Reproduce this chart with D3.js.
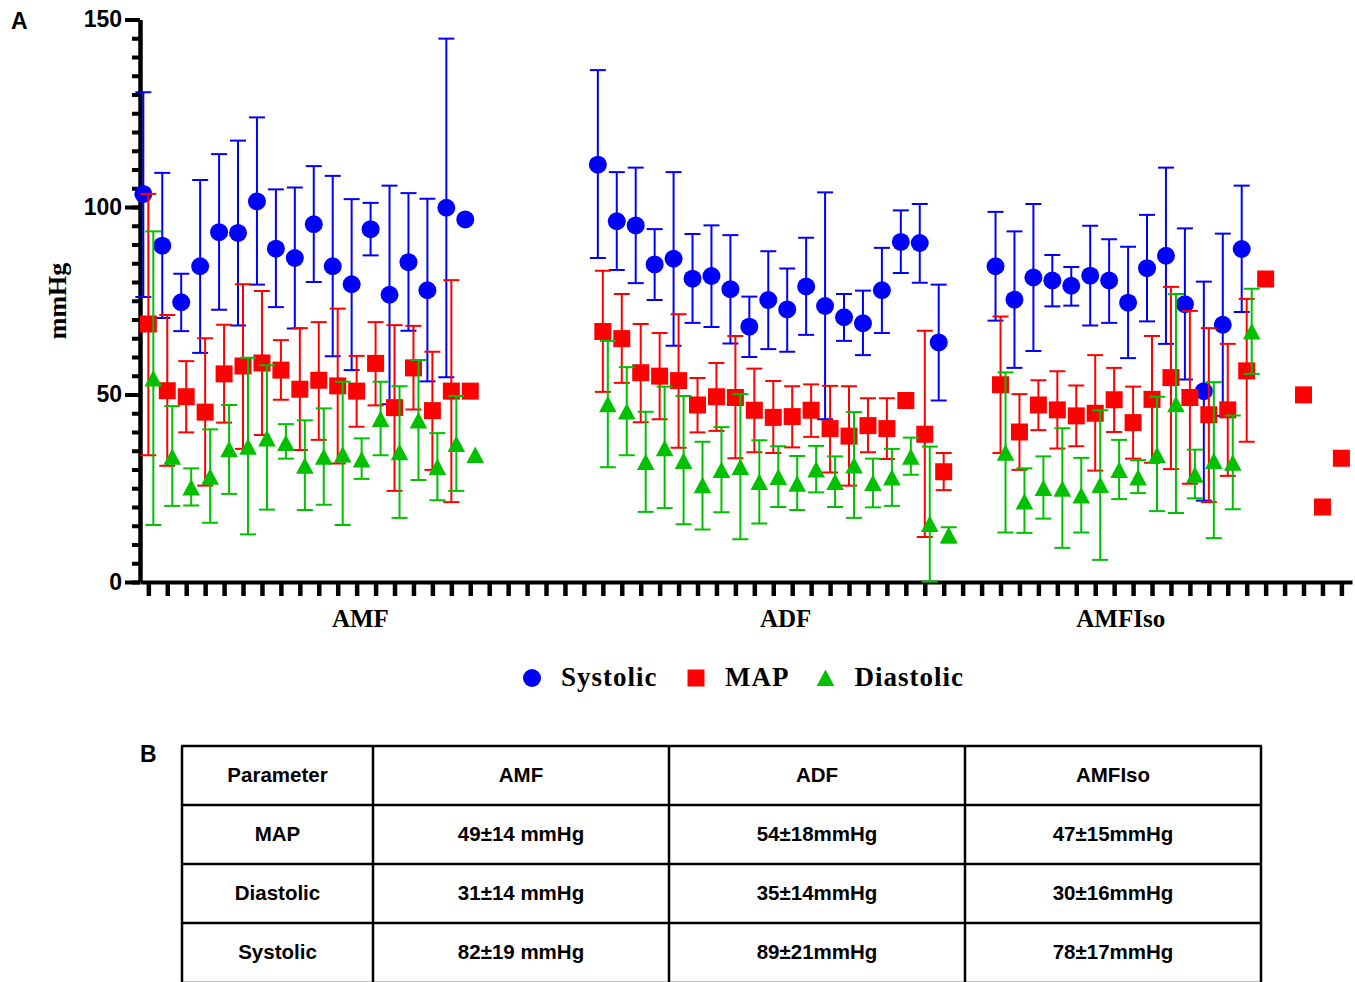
<!DOCTYPE html>
<html>
<head>
<meta charset="utf-8">
<script src="https://cdn.jsdelivr.net/npm/d3@7"></script>
<style>
  body { margin: 0; background: #fff; }
  svg { display: block; }
</style>
</head>
<body>
<svg id="chart" width="1355" height="982"></svg>
<script>
// Data: [mean, low, high] per subject
var groupNames = ["AMF", "ADF", "AMFIso"];
var groupStarts = [0, 24, 45];          // first column index of every group
var groupCenters = [11.2, 33.65, 51.35]; // where the group label sits on the column axis

var amfSys = [[103.5,76.0,130.6],[89.7,70.4,109.1],[74.6,66.9,82.2],[84.2,61.1,107.2],[93.3,72.6,114.1],[93.1,68.4,117.7],[101.5,79.3,123.9],[88.9,73.3,104.7],[86.4,67.6,105.2],[95.4,80.0,110.9],[84.2,60.2,108.3],[79.4,56.5,102.1],[94.1,87.1,101.1],[76.6,47.4,105.7],[85.3,67.0,103.7],[77.8,53.5,102.2],[99.8,54.6,144.9],[96.7,null,null]];
var amfMap = [[68.8,33.8,103.5],[51.0,31.0,71.2],[49.4,39.9,58.9],[45.3,25.7,65.0],[55.5,42.5,68.6],[57.6,35.5,79.4],[58.4,39.2,77.6],[56.5,48.6,64.5],[51.4,35.2,67.7],[53.8,37.9,69.3],[52.3,31.6,72.9],[50.9,41.4,60.3],[58.3,47.1,69.3],[46.5,24.3,68.5],[57.1,46.0,68.3],[45.7,29.9,61.4],[50.9,21.3,80.5],[50.9,null,null]];
var amfDia = [[54.3,15.2,93.5],[33.4,20.3,46.9],[25.2,20.4,30.3],[28.1,15.8,40.7],[35.4,23.5,47.2],[36.1,12.7,59.8],[38.3,19.3,57.8],[37.1,32.9,42.1],[31.0,19.2,43.1],[33.4,20.6,46.3],[34.0,15.2,53.4],[32.7,27.5,38.3],[43.5,33.8,53.4],[34.6,17.1,52.2],[43.1,27.2,59.2],[30.7,21.8,39.7],[36.8,24.3,49.6],[33.9,null,null]];

var adfSys = [[111.3,86.4,136.5],[96.2,83.2,109.3],[95.1,79.7,110.5],[84.7,75.2,94.1],[86.2,63.0,109.3],[80.9,69.1,92.8],[81.6,68.0,95.1],[78.1,63.6,92.5],[68.1,60.0,76.1],[75.2,62.1,88.2],[72.7,61.4,83.6],[78.8,65.9,91.8],[73.6,43.4,103.9],[70.6,64.3,76.8],[69.0,60.5,77.7],[77.8,66.4,89.1],[90.7,82.4,99.1],[90.4,79.8,100.8],[63.9,48.4,79.3]];
var adfMap = [[66.8,50.7,83.0],[64.9,53.1,76.8],[55.8,42.6,68.8],[54.9,43.4,66.4],[53.7,35.8,71.4],[47.2,39.9,54.4],[49.4,40.3,58.4],[49.2,33.0,65.6],[45.8,34.6,56.9],[43.9,34.4,53.6],[44.1,35.9,52.2],[45.8,38.7,52.7],[40.9,29.2,52.3],[38.9,25.7,52.2],[41.7,34.6,49.0],[40.9,32.8,49.0],[48.4,null,null],[39.4,12.0,67.0],[29.4,24.5,34.4]];
var adfDia = [[47.4,30.6,64.3],[45.5,33.8,57.3],[32.0,18.7,45.4],[35.7,19.7,52.1],[32.3,15.4,49.6],[25.8,14.0,37.4],[29.9,18.6,41.3],[30.7,11.4,50.1],[26.7,15.6,37.8],[28.0,20.0,36.2],[26.2,19.2,33.6],[30.0,23.9,36.3],[26.7,20.0,33.5],[31.1,17.1,45.3],[26.4,19.9,32.9],[27.9,20.3,35.5],[33.4,28.6,38.5],[15.5,0.1,36.1],[12.5,10.5,14.6]];

var isoSys = [[84.2,69.7,98.7],[75.3,57.1,93.5],[81.2,61.6,100.8],[80.4,73.5,87.2],[79.0,73.7,84.0],[81.7,68.4,95.0],[80.4,69.1,91.4],[74.5,59.7,89.4],[83.7,69.5,97.9],[87.0,63.5,110.5],[74.1,54.0,94.3],[50.9,21.7,80.1],[68.6,44.3,92.9],[88.8,72.0,105.7]];
var isoMap = [[52.6,34.4,70.8],[40.0,29.9,50.1],[47.2,40.5,53.8],[45.9,35.6,56.2],[44.3,36.2,52.4],[45.0,29.7,60.5],[48.6,40.0,57.1],[42.5,32.9,52.1],[48.7,31.8,65.6],[54.5,30.1,78.7],[49.2,26.2,72.3],[44.6,21.3,67.7],[45.9,28.3,63.5],[56.3,37.4,75.5]];
var isoDia = [[34.5,13.2,55.9],[21.5,13.1,30.3],[25.1,16.9,33.5],[24.9,9.1,41.0],[23.1,13.2,33.1],[25.9,5.9,45.8],[29.9,22.1,37.9],[27.9,23.7,32.5],[33.9,18.9,49.4],[47.4,18.4,76.8],[28.6,22.3,35.3],[32.3,11.7,53.3],[31.8,19.4,44.4],[66.8,55.5,78.2]];

// MAP-only points after the AMFIso group (column index, value)
var extraMapCols = [59, 61, 62, 63];
var extraMapVals = [80.8, 49.9, 20.0, 33.0];

var yTicksMajor = [0, 50, 100, 150];
var nColumns = 64;

var legendNames = ["Systolic", "MAP", "Diastolic"];
var legendColors = ["#0000ff", "#ff0000", "#00c000"];

var tableHeader = ["Parameter", "AMF", "ADF", "AMFIso"];
var tableRows = [
    ["MAP", "49±14 mmHg", "54±18mmHg", "47±15mmHg"],
    ["Diastolic", "31±14 mmHg", "35±14mmHg", "30±16mmHg"],
    ["Systolic", "82±19 mmHg", "89±21mmHg", "78±17mmHg"]
];

var sans = "'Liberation Sans', Arial, sans-serif";
var serif = "'Liberation Serif', 'Times New Roman', serif";

var svg = d3.select("#chart");

// Scales
var x = d3.scaleLinear().domain([-0.44, 63.56]).range([140, 1352]);
var y = d3.scaleLinear().domain([0, 150]).range([582, 19.5]);

// Panel letters
svg.append("text").attr("x", 11).attr("y", 29).text("A")
   .style("font", "bold 23px " + sans);
svg.append("text").attr("x", 140).attr("y", 762).text("B")
   .style("font", "bold 23px " + sans);

// Y axis: minor ticks, then major ticks with labels
var yMinor = svg.append("g")
    .attr("transform", "translate(140,0)")
    .call(d3.axisLeft(y).tickValues(d3.range(0, 151, 5)).tickSize(8).tickSizeOuter(0).tickFormat(""));
yMinor.selectAll("line").attr("stroke", "#000").attr("stroke-width", 4);
yMinor.select(".domain").attr("stroke", "#000").attr("stroke-width", 4.5);

var yMajor = svg.append("g")
    .attr("transform", "translate(140,0)")
    .call(d3.axisLeft(y).tickValues(yTicksMajor).tickSize(15).tickPadding(3));
yMajor.select(".domain").remove();
yMajor.selectAll("line").attr("stroke", "#000").attr("stroke-width", 4);
yMajor.selectAll("text").style("font", "bold 23px " + sans).attr("fill", "#000");

// X axis: one tick per column
var xAxis = svg.append("g")
    .attr("transform", "translate(0,582)")
    .call(d3.axisBottom(x).tickValues(d3.range(nColumns)).tickSize(14).tickSizeOuter(0).tickFormat(""));
xAxis.selectAll("line").attr("stroke", "#000").attr("stroke-width", 4.5);
xAxis.select(".domain").attr("stroke", "#000").attr("stroke-width", 4);

// Group labels
svg.selectAll(".grp")
   .data(groupNames)
   .enter()
   .append("text")
      .attr("x", function(d, i) { return x(groupCenters[i]); })
      .attr("y", 627)
      .attr("text-anchor", "middle")
      .style("font", "bold 25px " + serif)
      .text(function(d) { return d; });

// Y title
svg.append("text")
   .attr("transform", "translate(66,301) rotate(-90)")
   .attr("text-anchor", "middle")
   .style("font", "bold 26px " + serif)
   .text("mmHg");

// Symbols
function symbolPath(kind) {
    if (kind == 0) return d3.symbol().type(d3.symbolCircle).size(Math.PI * 9 * 9)();
    if (kind == 1) return "M-8.5,-8.5H8.5V8.5H-8.5Z";
    return "M0,-8.5L8.8,8H-8.8Z";
}

// Build rows for each series
function buildPoints(series, start, offset) {
    return series.map(function(v, i) {
        return { col: start + i, off: offset, mean: v[0], lo: v[1], hi: v[2] };
    });
}

var seriesSets = [
    buildPoints(amfSys, groupStarts[0], -5).concat(buildPoints(adfSys, groupStarts[1], -5), buildPoints(isoSys, groupStarts[2], -5)),
    buildPoints(amfMap, groupStarts[0], 0).concat(buildPoints(adfMap, groupStarts[1], 0), buildPoints(isoMap, groupStarts[2], 0),
        extraMapCols.map(function(c, i) { return { col: c, off: 0, mean: extraMapVals[i], lo: null, hi: null }; })),
    buildPoints(amfDia, groupStarts[0], 5).concat(buildPoints(adfDia, groupStarts[1], 5), buildPoints(isoDia, groupStarts[2], 5))
];

seriesSets.forEach(function(points, k) {
    var color = legendColors[k];
    var g = svg.append("g");
    var bars = points.filter(function(p) { return p.lo != null; });

    // vertical error lines
    g.selectAll(".eb")
     .data(bars)
     .enter()
     .append("line")
        .attr("x1", function(p) { return x(p.col) + p.off; })
        .attr("x2", function(p) { return x(p.col) + p.off; })
        .attr("y1", function(p) { return y(p.lo); })
        .attr("y2", function(p) { return y(p.hi); })
        .attr("stroke", color)
        .attr("stroke-width", 2);

    // caps at both ends
    [ "lo", "hi" ].forEach(function(end) {
        g.selectAll(".cap-" + end)
         .data(bars)
         .enter()
         .append("line")
            .attr("x1", function(p) { return x(p.col) + p.off - 8; })
            .attr("x2", function(p) { return x(p.col) + p.off + 8; })
            .attr("y1", function(p) { return y(p[end]); })
            .attr("y2", function(p) { return y(p[end]); })
            .attr("stroke", color)
            .attr("stroke-width", 2);
    });

    // markers
    g.selectAll(".mk")
     .data(points)
     .enter()
     .append("path")
        .attr("d", symbolPath(k))
        .attr("transform", function(p) { return "translate(" + (x(p.col) + p.off) + "," + y(p.mean) + ")"; })
        .attr("fill", color);
});

// Legend
var legendX = [532, 696, 825.5];
var legend = svg.selectAll(".leg")
    .data(legendNames)
    .enter()
    .append("g")
       .attr("transform", function(d, i) { return "translate(" + legendX[i] + ",678)"; });
legend.append("path")
    .attr("d", function(d, i) { return symbolPath(i); })
    .attr("fill", function(d, i) { return legendColors[i]; });
legend.append("text")
    .attr("x", 29)
    .attr("y", 8)
    .style("font", "bold 27px " + serif)
    .style("letter-spacing", "1px")
    .text(function(d) { return d; });

// Table (panel B)
var colX = [182, 373, 669, 965, 1261];
var rowY = [746, 805, 864, 923, 983];
var tbl = svg.append("g");
var allRows = [tableHeader].concat(tableRows);

rowY.forEach(function(v) {
    tbl.append("line").attr("x1", colX[0] - 1).attr("x2", colX[colX.length - 1] + 1)
       .attr("y1", v).attr("y2", v).attr("stroke", "#000").attr("stroke-width", 2.5);
});
colX.forEach(function(v) {
    tbl.append("line").attr("x1", v).attr("x2", v)
       .attr("y1", rowY[0]).attr("y2", rowY[rowY.length - 1])
       .attr("stroke", "#000").attr("stroke-width", 2.5);
});
allRows.forEach(function(row, r) {
    row.forEach(function(cell, c) {
        tbl.append("text")
           .attr("x", (colX[c] + colX[c + 1]) / 2)
           .attr("y", (rowY[r] + rowY[r + 1]) / 2)
           .attr("dy", "0.3em")
           .attr("text-anchor", "middle")
           .style("font", "bold 20.5px " + sans)
           .text(cell);
    });
});
</script>
</body>
</html>
